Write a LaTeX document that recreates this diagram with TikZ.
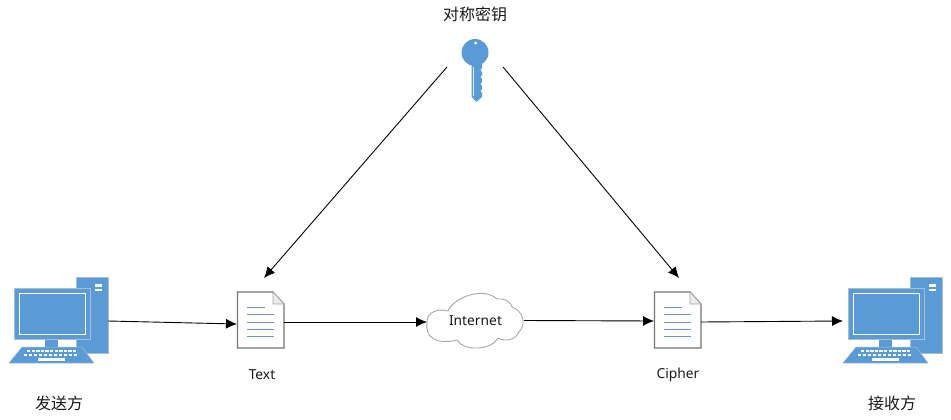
\documentclass[tikz,border=0pt]{standalone}
\usepackage{fontspec}
\setmainfont{Noto Sans}
\newfontfamily\cjk{Noto Sans CJK SC}
\usetikzlibrary{arrows.meta}
\definecolor{iconblue}{HTML}{5B9BD5}
\definecolor{iconedge}{HTML}{A9BDD2}
\definecolor{docline}{HTML}{7095CC}
\tikzset{
    iconbox/.style={inner sep=0pt,outer sep=0pt},
    label/.style={font=\fontsize{13.8}{15}\selectfont,text=black!90},
    cjklabel/.style={font=\cjk\fontsize{16}{18}\selectfont,text=black!90},
    link/.style={-{Latex[length=11pt,width=10pt]},line width=0.9pt},
    computer/.pic={
        %% Tower
        \fill[iconblue,draw=iconedge,line width=0.8pt] (76,277) rectangle (108,353);
        \fill[white] (95,284) rectangle (102,286.5);
        \fill[white] (95,288.5) rectangle (102,291);
        %% Neck
        \fill[iconblue] (45,339) rectangle (58,348);
        %% Monitor
        \fill[iconblue,draw=iconedge,line width=1pt] (14.5,288.5) rectangle (90.5,339);
        \draw[white,line width=0.8pt] (19.5,293.5) rectangle (85.5,334);
        %% Keyboard
        \fill[iconblue,draw=iconedge,line width=0.5pt] (22,347) -- (82,347) -- (94,363) -- (9,363) -- cycle;
        \foreach \k in {0,...,10} {
            \fill[white] (27+4.6*\k,350) rectangle ++(3.4,2.2);
            \fill[white] (23.5+5*\k,354) rectangle ++(3.8,2.2);
        }
        \fill[white] (38,358) rectangle (65,360.5);
    },
    document/.pic={
        %% Sheet
        \draw[fill=white,draw=black!55,line width=1.1pt] (237.5,292) -- (273,292) -- (284,304) -- (284,348) -- (237.5,348) -- cycle;
        \draw[fill=black!8,draw=black!35,line width=0.8pt] (273,292) -- (273,304) -- (284,304) -- cycle;
        %% Text lines
        \draw[docline,line width=0.8pt] (247,307.5) -- (265,307.5);
        \foreach \y in {314.5,322,329,336} {
            \draw[docline,line width=0.8pt] (247,\y) -- (274,\y);
        }
    }
}
\begin{document}
\begin{tikzpicture}[x=1pt,y=-1pt]
    \useasboundingbox (0,0) rectangle (951,420);
    %% Computers
    \pic at (0,0) {computer};
    \pic at (834,0) {computer};
    \node[iconbox,minimum width=99pt,minimum height=86pt] (Sender) at (58.5,320) {};
    \node[iconbox,minimum width=99pt,minimum height=86pt] (Receiver) at (892.5,320) {};
    %% Documents
    \pic at (0,0) {document};
    \pic at (417,0) {document};
    \node[iconbox,minimum width=47pt,minimum height=56pt] (Text) at (260.5,320) {};
    \node[iconbox,minimum width=47pt,minimum height=56pt] (Cipher) at (677.5,320) {};
    %% Cloud
    \draw[fill=white,draw=black!35,line width=0.9pt] (427,322)
        .. controls (427,312) and (438,308) .. (448,311)
        .. controls (453,298) and (483,286) .. (497,299)
        .. controls (503,298) and (511,301) .. (512,307)
        .. controls (522,310) and (528,324) .. (518,333)
        .. controls (516,340) and (504,342) .. (498,338)
        .. controls (492,350) and (464,352) .. (457,340)
        .. controls (450,342) and (424,346) .. (427,322) -- cycle;
    \node[iconbox,label,minimum width=97pt,minimum height=55pt] (Internet) at (475.5,320.5) {Internet};
    %% Key
    \fill[iconblue] (471.5,60) -- (482,60) -- (482,68)
        -- (480.5,70) -- (482,72) -- (482,75) -- (480.5,77) -- (482,79) -- (482,82)
        -- (480.5,84) -- (482,86) -- (482,89) -- (480.5,91) -- (482,93) -- (482,97)
        -- (476.5,102) -- (471.5,97) -- cycle;
    \fill[iconblue] (475,52.5) circle (13.5);
    \fill[white] (475.5,43) circle (1.5);
    \draw[white!80!iconblue,line width=0.7pt] (473.5,67) -- (473.5,96);
    \node[iconbox,minimum width=56pt,minimum height=70pt] (Key) at (475,67) {};
    %% Labels
    \node[iconbox,cjklabel] (KeyLabel) at (475,14) {对称密钥};
    \node[iconbox,cjklabel] (SenderLabel) at (59,403) {发送方};
    \node[iconbox,cjklabel] (ReceiverLabel) at (892,403) {接收方};
    \node[iconbox,label] (TextLabel) at (262,375) {Text};
    \node[iconbox,label] (CipherLabel) at (678,375) {Cipher};
    %% Connectors
    \coordinate (TextIn) at (264,278);
    \coordinate (CipherIn) at (679,278);
    \draw[link] (Key.west) -- (TextIn);
    \draw[link] (Key.east) -- (CipherIn);
    \draw[link] ([yshift=-1pt]Sender.east) -- ([yshift=-4pt]Text.west);
    \draw[link] ([yshift=-2pt]Text.east) -- ([yshift=-1.5pt]Internet.west);
    \draw[link] (Internet.east) -- ([yshift=-1pt]Cipher.west);
    \draw[link] ([yshift=-2pt]Cipher.east) -- ([yshift=-1pt]Receiver.west);
\end{tikzpicture}
\end{document}
